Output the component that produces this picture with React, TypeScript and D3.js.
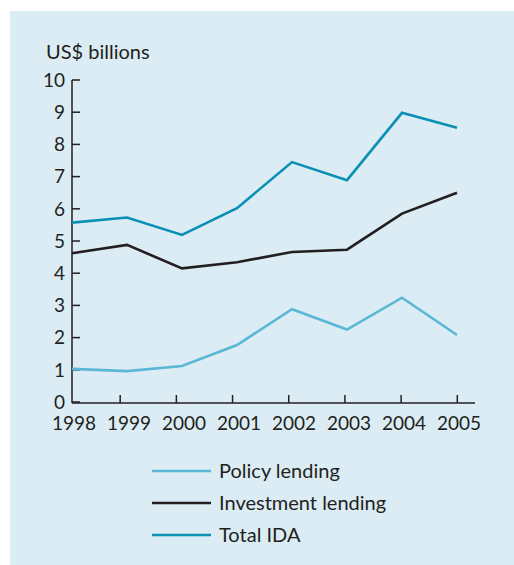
import React from "react";
import * as d3 from "d3";

const years = [1998, 1999, 2000, 2001, 2002, 2003, 2004, 2005];
const policyLending = [1.03, 0.96, 1.12, 1.77, 2.88, 2.25, 3.24, 2.08];
const investmentLending = [4.62, 4.88, 4.15, 4.34, 4.66, 4.73, 5.85, 6.5];
const totalIDA = [5.57, 5.73, 5.19, 6.02, 7.45, 6.89, 8.98, 8.52];
const yTicks = [0, 1, 2, 3, 4, 5, 6, 7, 8, 9, 10];
const seriesNames = ["Policy lending", "Investment lending", "Total IDA"];
const seriesColors = ["#5ab7d6", "#231f20", "#0a8fb5"];
const yAxisTitle = "US$ billions";

const FONT = "Lato, 'Open Sans', sans-serif";
const TEXT = "#231f20";

export default function App() {
  const x = d3.scaleLinear().domain([1998, 2005]).range([72, 457]);
  const xTick = d3.scaleLinear().domain([1998, 2005]).range([64, 457.3]);
  const y = d3.scaleLinear().domain([0, 10]).range([402, 80]);
  const line = d3
    .line<number>()
    .x((_, i) => x(years[i]))
    .y((d) => y(d));
  const series = [policyLending, investmentLending, totalIDA];
  const x0 = x(1998);
  const y0 = y(0);

  return (
    <svg
      width={514}
      height={565}
      style={{ position: "absolute", left: 0, top: 0 }}
      fontFamily={FONT}
    >
      <rect x={10} y={11} width={504} height={554} fill="#dbecf4" />
      <text x={46} y={59} fontSize={20} fill={TEXT}>
        {yAxisTitle}
      </text>
      {/* y axis */}
      <line x1={x0} x2={x0} y1={y(10)} y2={y0 + 1} stroke={TEXT} strokeWidth={1.5} />
      {yTicks.map((t) => (
        <g key={t}>
          <line x1={x0} x2={x0 + 8} y1={y(t)} y2={y(t)} stroke={TEXT} strokeWidth={1.5} />
          <text
            x={65}
            y={y(t)}
            dy="0.36em"
            textAnchor="end"
            fontSize={19}
            fill={TEXT}
          >
            {t}
          </text>
        </g>
      ))}
      {/* x axis */}
      <line x1={x0} x2={475} y1={y0 + 1} y2={y0 + 1} stroke={TEXT} strokeWidth={1.5} />
      {years.map((yr, i) => (
        <g key={yr}>
          {i > 0 && (
            <line
              x1={xTick(yr)}
              x2={xTick(yr)}
              y1={y0 + 1}
              y2={y0 - 7}
              stroke={TEXT}
              strokeWidth={1.5}
            />
          )}
          <text x={x(yr) + 2} y={430} textAnchor="middle" fontSize={19} fill={TEXT}>
            {yr}
          </text>
        </g>
      ))}
      {series.map((s, i) => (
        <path
          key={i}
          d={line(s) || ""}
          fill="none"
          stroke={seriesColors[i]}
          strokeWidth={2.6}
        />
      ))}
      {/* legend */}
      {seriesNames.map((n, i) => (
        <g key={n} transform={`translate(0, ${471 + i * 32})`}>
          <line x1={152} x2={211} y1={0} y2={0} stroke={seriesColors[i]} strokeWidth={2.6} />
          <text x={219} y={0} dy="0.36em" fontSize={20} fill={TEXT}>
            {n}
          </text>
        </g>
      ))}
    </svg>
  );
}
